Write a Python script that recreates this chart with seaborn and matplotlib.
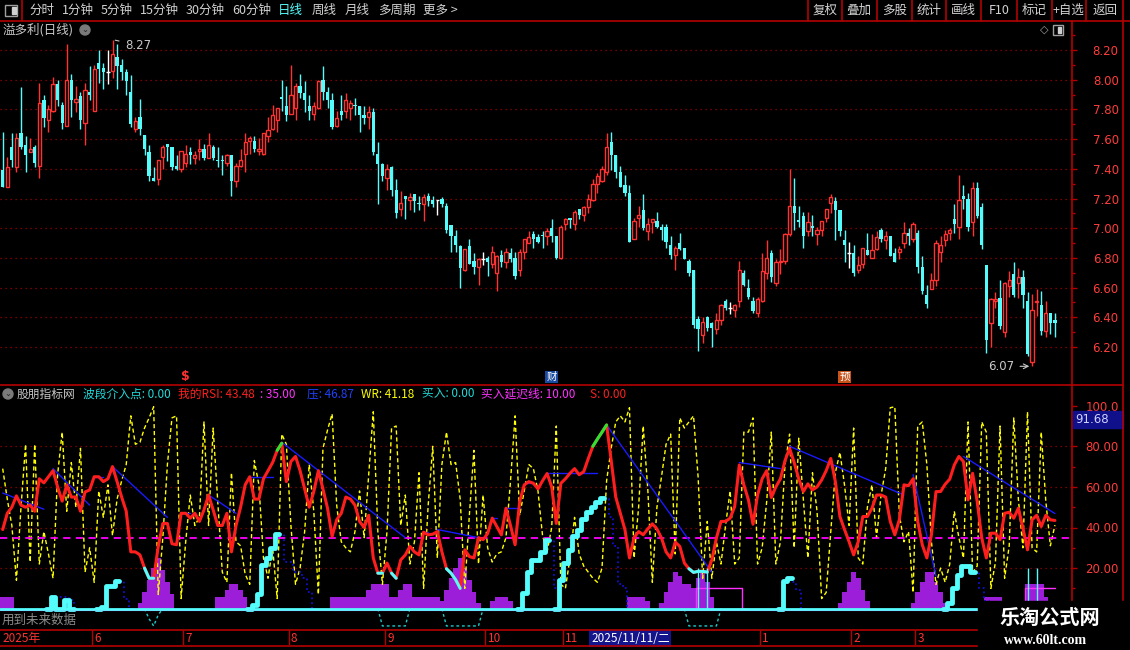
import numpy as np
import pandas as pd
import matplotlib
matplotlib.use("Agg")
import matplotlib.pyplot as plt
import matplotlib.transforms as mtransforms
from matplotlib.patches import Rectangle, Circle
import seaborn as sns

# ================= DATA =================
opens = [
    7.39, 7.28, 7.55, 7.41, 7.64, 7.56, 7.51, 7.55, 7.42, 7.86,
    7.73, 7.79, 7.97, 7.83, 7.69, 8.00, 7.85, 7.89, 7.71, 7.92,
    7.79, 8.11, 8.08, 8.05, 8.06, 8.15, 8.10, 8.05, 7.92, 7.67,
    7.75, 7.63, 7.51, 7.34, 7.33, 7.48, 7.57, 7.55, 7.42, 7.40,
    7.44, 7.51, 7.47, 7.52, 7.53, 7.47, 7.55, 7.46, 7.46, 7.44,
    7.49, 7.32, 7.42, 7.50, 7.59, 7.59, 7.52, 7.50, 7.62, 7.67,
    7.73, 7.88, 7.82, 7.77, 7.81, 7.96, 7.91, 7.82, 7.77, 7.81,
    8.00, 7.92, 7.86, 7.69, 7.79, 7.79, 7.81, 7.83, 7.82, 7.76,
    7.75, 7.78, 7.50, 7.43, 7.34, 7.41, 7.26, 7.13, 7.22, 7.19,
    7.23, 7.165, 7.16, 7.22, 7.19, 7.19, 7.20, 7.15, 7.02, 6.95,
    6.88, 6.72, 6.88, 6.78, 6.74, 6.79, 6.80, 6.76, 6.70, 6.82,
    6.77, 6.83, 6.80, 6.72, 6.84, 6.90, 6.96, 6.94, 6.95, 6.95,
    7.00, 6.95, 6.80, 7.03, 7.06, 7.03, 7.13, 7.09, 7.14, 7.19,
    7.30, 7.32, 7.38, 7.58, 7.49, 7.38, 7.29, 7.24, 6.93, 7.07,
    7.12, 6.98, 7.04, 7.05, 7.01, 7.01, 6.89, 6.82, 6.90, 6.87,
    6.78, 6.72, 6.39, 6.28, 6.40, 6.36, 6.32, 6.38, 6.51, 6.46,
    6.45, 6.51, 6.70, 6.60, 6.51, 6.43, 6.51, 6.70, 6.83, 6.63,
    6.77, 6.78, 6.96, 7.15, 7.05, 7.08, 6.98, 7.01, 6.96, 6.99,
    7.07, 7.17, 7.18, 7.12, 6.92, 6.83, 6.83, 6.72, 6.76, 6.85,
    6.80, 6.86, 6.99, 6.92, 6.95, 6.83, 6.84, 6.90, 6.97, 6.93,
    6.97, 6.74, 6.55, 6.59, 6.65, 6.84, 6.92, 6.97, 7.06, 7.01,
    7.22, 7.20, 7.04, 7.27, 7.14, 6.75, 6.36, 6.51, 6.53, 6.30,
    6.61, 6.69, 6.63, 6.67, 6.51, 6.10, 6.50, 6.48, 6.31, 6.43,
    6.38]
highs = [
    7.65, 7.48, 7.64, 7.64, 7.95, 7.62, 7.61, 7.56, 7.98, 7.90,
    7.83, 8.02, 8.00, 7.85, 8.24, 8.04, 7.96, 7.92, 7.98, 8.09,
    8.10, 8.20, 8.11, 8.20, 8.27, 8.24, 8.14, 8.07, 8.03, 7.75,
    7.87, 7.63, 7.56, 7.41, 7.46, 7.56, 7.57, 7.55, 7.49, 7.52,
    7.56, 7.55, 7.52, 7.60, 7.57, 7.64, 7.56, 7.55, 7.49, 7.50,
    7.49, 7.44, 7.53, 7.64, 7.62, 7.62, 7.61, 7.64, 7.75, 7.83,
    7.81, 8.00, 7.96, 8.10, 7.98, 8.04, 7.99, 7.90, 7.85, 8.00,
    8.09, 7.95, 7.91, 7.79, 7.90, 7.91, 7.86, 7.88, 7.82, 7.82,
    7.82, 7.81, 7.58, 7.44, 7.43, 7.42, 7.33, 7.25, 7.22, 7.24,
    7.23, 7.22, 7.23, 7.24, 7.22, 7.19, 7.21, 7.17, 7.02, 6.99,
    6.89, 6.86, 6.93, 6.83, 6.80, 6.84, 6.81, 6.88, 6.82, 6.85,
    6.87, 6.87, 6.84, 6.86, 6.93, 6.98, 6.98, 6.96, 6.98, 7.00,
    7.06, 6.95, 7.02, 7.07, 7.07, 7.12, 7.13, 7.15, 7.23, 7.33,
    7.37, 7.42, 7.64, 7.65, 7.49, 7.42, 7.36, 7.29, 7.07, 7.15,
    7.23, 7.07, 7.06, 7.11, 7.03, 7.03, 6.95, 6.88, 6.97, 6.87,
    6.79, 6.72, 6.41, 6.40, 6.41, 6.37, 6.43, 6.49, 6.52, 6.50,
    6.49, 6.78, 6.72, 6.66, 6.54, 6.54, 6.83, 6.92, 6.85, 6.79,
    6.86, 6.97, 7.40, 7.34, 7.15, 7.11, 7.11, 7.09, 7.01, 7.05,
    7.13, 7.23, 7.21, 7.12, 6.99, 6.91, 6.89, 6.81, 6.87, 6.97,
    6.96, 6.98, 7.00, 6.98, 6.95, 6.87, 6.88, 7.04, 7.00, 7.04,
    6.99, 6.81, 6.62, 6.70, 6.92, 6.95, 6.99, 7.00, 7.16, 7.36,
    7.29, 7.24, 7.31, 7.31, 7.17, 6.75, 6.53, 6.57, 6.65, 6.64,
    6.71, 6.77, 6.73, 6.72, 6.57, 6.56, 6.59, 6.58, 6.51, 6.43,
    6.43]
lows = [
    7.28, 7.28, 7.41, 7.38, 7.53, 7.38, 7.51, 7.41, 7.34, 7.68,
    7.65, 7.78, 7.82, 7.67, 7.69, 7.75, 7.78, 7.67, 7.56, 7.86,
    7.79, 7.98, 7.94, 7.97, 8.01, 7.94, 8.00, 7.90, 7.68, 7.65,
    7.63, 7.49, 7.32, 7.32, 7.29, 7.40, 7.45, 7.39, 7.39, 7.38,
    7.41, 7.43, 7.43, 7.46, 7.46, 7.47, 7.46, 7.41, 7.36, 7.42,
    7.22, 7.28, 7.41, 7.38, 7.50, 7.51, 7.49, 7.49, 7.58, 7.66,
    7.65, 7.79, 7.72, 7.77, 7.73, 7.88, 7.78, 7.73, 7.73, 7.80,
    7.86, 7.81, 7.67, 7.68, 7.73, 7.74, 7.73, 7.76, 7.65, 7.70,
    7.67, 7.49, 7.16, 7.32, 7.26, 7.22, 7.07, 7.08, 7.06, 7.12,
    7.11, 7.12, 7.05, 7.15, 7.14, 7.09, 7.14, 6.97, 6.84, 6.84,
    6.60, 6.71, 6.76, 6.69, 6.62, 6.75, 6.68, 6.73, 6.58, 6.74,
    6.73, 6.77, 6.66, 6.68, 6.79, 6.90, 6.87, 6.90, 6.87, 6.89,
    6.91, 6.79, 6.79, 6.99, 7.00, 6.99, 7.06, 7.05, 7.10, 7.18,
    7.24, 7.31, 7.36, 7.39, 7.34, 7.28, 7.22, 6.91, 6.93, 7.01,
    6.99, 6.92, 6.97, 7.00, 6.92, 6.87, 6.79, 6.72, 6.85, 6.79,
    6.68, 6.33, 6.17, 6.23, 6.31, 6.20, 6.29, 6.35, 6.45, 6.42,
    6.40, 6.47, 6.61, 6.52, 6.43, 6.40, 6.50, 6.66, 6.64, 6.61,
    6.69, 6.76, 6.95, 6.99, 7.01, 6.87, 6.95, 6.95, 6.89, 6.95,
    7.04, 7.10, 6.92, 6.95, 6.77, 6.73, 6.68, 6.70, 6.73, 6.82,
    6.80, 6.85, 6.91, 6.86, 6.81, 6.77, 6.79, 6.87, 6.89, 6.91,
    6.70, 6.56, 6.46, 6.59, 6.61, 6.77, 6.88, 6.92, 6.97, 6.93,
    7.13, 6.98, 6.95, 7.07, 6.86, 6.16, 6.20, 6.46, 6.32, 6.27,
    6.54, 6.54, 6.53, 6.46, 6.14, 6.07, 6.41, 6.28, 6.27, 6.29,
    6.27]
closes = [
    7.28, 7.41, 7.46, 7.61, 7.55, 7.49, 7.53, 7.44, 7.84, 7.74,
    7.80, 7.97, 7.86, 7.71, 8.00, 7.86, 7.87, 7.73, 7.93, 7.90,
    8.07, 8.07, 8.05, 8.05, 8.17, 8.09, 8.05, 7.99, 7.70, 7.72,
    7.67, 7.53, 7.35, 7.32, 7.46, 7.55, 7.55, 7.41, 7.40, 7.52,
    7.50, 7.49, 7.49, 7.53, 7.47, 7.56, 7.47, 7.45, 7.45, 7.49,
    7.32, 7.42, 7.46, 7.58, 7.61, 7.53, 7.53, 7.64, 7.66, 7.76,
    7.81, 7.87, 7.76, 7.90, 7.96, 7.91, 7.86, 7.79, 7.82, 7.99,
    7.92, 7.86, 7.68, 7.74, 7.76, 7.86, 7.84, 7.82, 7.76, 7.74,
    7.78, 7.51, 7.43, 7.35, 7.40, 7.26, 7.10, 7.17, 7.20, 7.21,
    7.18, 7.16, 7.21, 7.18, 7.16, 7.19, 7.16, 6.99, 6.95, 6.89,
    6.73, 6.86, 6.76, 6.74, 6.79, 6.79, 6.77, 6.84, 6.81, 6.77,
    6.84, 6.79, 6.68, 6.84, 6.93, 6.94, 6.93, 6.91, 6.945, 6.98,
    6.95, 6.80, 7.01, 7.06, 7.055, 7.11, 7.09, 7.14, 7.20, 7.30,
    7.35, 7.40, 7.55, 7.49, 7.38, 7.28, 7.24, 6.91, 7.05, 7.09,
    7.00, 7.03, 7.06, 7.01, 6.99, 6.91, 6.82, 6.87, 6.86, 6.79,
    6.70, 6.35, 6.32, 6.37, 6.33, 6.33, 6.38, 6.48, 6.46, 6.46,
    6.48, 6.72, 6.62, 6.54, 6.44, 6.52, 6.71, 6.80, 6.67, 6.77,
    6.78, 6.96, 7.15, 7.10, 7.04, 6.95, 7.04, 7.00, 6.99, 7.05,
    7.13, 7.21, 7.12, 6.98, 6.89, 6.83, 6.70, 6.75, 6.87, 6.82,
    6.85, 6.94, 6.93, 6.95, 6.81, 6.77, 6.86, 6.97, 6.95, 7.03,
    6.74, 6.58, 6.49, 6.65, 6.90, 6.89, 6.96, 6.99, 7.03, 7.19,
    7.20, 7.01, 7.27, 7.08, 6.89, 6.25, 6.52, 6.52, 6.34, 6.63,
    6.65, 6.55, 6.67, 6.55, 6.15, 6.45, 6.51, 6.31, 6.43, 6.36,
    6.36]

# indicator panel
rsi = [
    39, 47, 50, 55.6, 51, 50, 51, 48, 64, 62,
    65, 68, 60, 53, 61, 55, 55, 48, 57.5, 58.5,
    65, 65, 62.6, 64, 70, 62.6, 55, 48, 28, 28,
    26.5, 20, 15, 15, 30.7, 42, 42, 32, 31.5, 47,
    47, 44.6, 47, 43, 48.7, 56, 48.7, 41, 41, 47,
    28, 41, 50, 61, 65, 54, 54, 64, 68, 72,
    78, 81.5, 62.6, 72.5, 75, 68, 59, 50, 57.7, 68,
    59, 49.5, 35.6, 43.8, 47, 55, 54, 51, 43, 40,
    46, 25, 17.5, 17.5, 22.5, 17.5, 15, 24, 26.5, 30.7,
    28, 26.5, 37.7, 36.4, 36.7, 38, 28, 19.7, 17.5, 14.3,
    10, 29, 25.7, 25, 35, 34, 37, 44.6, 40.5, 36.4,
    49.5, 41, 31.5, 52.8, 61, 62.6, 61.8, 59, 63, 66.6,
    60, 42, 61.8, 64, 66.7, 69, 66, 67.5, 74, 80,
    83.6, 87, 90.5, 73, 55, 47, 39, 25, 35, 38,
    36.4, 39.3, 41.8, 39.3, 34.8, 28, 25, 32.8, 30.7, 22.5,
    19.7, 17.9, 18.4, 18.4, 18, 24, 34.8, 43, 43, 44.6,
    50.3, 70.8, 61, 53.6, 41.6, 56, 64, 68, 54.8, 60,
    64, 73, 79, 72, 64, 57.7, 61.5, 58.5, 60, 63.4,
    68, 74, 62.6, 45.4, 39, 33, 26.5, 33, 45.4, 45.4,
    49.5, 56, 56, 55, 43, 36.4, 44, 61, 60.6, 64,
    43, 31.5, 25, 36.4, 57.7, 57.7, 61.3, 63.8, 70.8, 75,
    72.5, 53.6, 66.7, 52.8, 34.8, 25, 37.2, 37.2, 34, 47,
    47.5, 44.6, 49.5, 39.7, 29, 43.8, 46, 40.5, 46, 43.8, 43.48]
wr = [
    69, 54, 41, 14, 50, 81, 23, 81, 22, 38,
    27, 15, 66, 87, 48, 72, 50, 79, 18, 30,
    13, 58, 45, 61, 36, 54, 63, 71, 95, 81,
    82, 89, 94, 99.5, 7, 35, 71, 94, 95, 5,
    33, 56, 41, 45, 92, 41, 89, 53, 18, 13,
    67, 33, 31, 17, 12, 73, 61, 25, 15, 30,
    5, 86, 81, 41, 12, 20, 38, 71, 48, 7,
    79, 88, 96, 51, 33, 30, 28, 38, 58, 35,
    66, 97, 38, 12, 38, 89, 90, 41, 56, 22,
    33, 67, 10, 51, 80, 25, 71, 87, 71, 72,
    54, 10, 46, 78, 22, 56, 30, 23, 27, 28,
    35, 63, 95, 46, 58, 71, 69, 58, 36, 28,
    40, 90, 12, 10, 25, 45, 27, 21, 18, 15,
    13, 20, 63, 79, 92, 95, 92, 99, 25, 50,
    90, 59, 13, 50, 65, 81, 86, 27, 94, 89,
    92, 95, 65, 15, 43, 15, 33, 22, 41, 58,
    22, 25, 87, 87, 94, 22, 30, 53, 87, 22,
    33, 71, 86, 30, 84, 54, 25, 67, 48, 5,
    8, 38, 67, 77, 61, 41, 89, 25, 22, 50,
    61, 35, 56, 69, 99, 99.5, 46, 33, 38, 8,
    90, 92, 71, 33, 12, 20, 13, 22, 48, 35,
    25, 92, 18, 21, 92, 87, 10, 23, 90, 15,
    31, 94, 54, 30, 97, 30, 28, 87, 53, 31, 41.18]

# pressure line (压) segments
press_x0 = [0, 11, 20, 24, 39, 45, 54, 61, 92, 95, 107, 110, 114, 119, 132, 161, 172, 199, 210]
press_y0 = [57, 69, 65, 70, 47, 56, 65, 82, 38, 39, 44.6, 49.5, 62, 67, 90.5, 72, 80, 66, 75]
press_x1 = [9, 19, 22, 36, 41, 51, 59, 88, 93, 104, 108, 113, 116, 130, 155, 170, 197, 204, 230]
press_y1 = [49, 51, 65, 45, 47, 47, 65, 35, 38, 35, 44.6, 49.5, 62, 67, 18, 69, 56, 16, 46.87]

# purple band columns
purple_idx = [0, 1, 2, 30, 31, 32, 33, 34, 35, 36, 37, 47, 48, 49, 50, 51, 52, 53,
              72, 73, 74, 75, 76, 77, 78, 79, 80, 81, 82, 83, 84, 85, 86, 87, 88, 89, 90, 91, 92, 93, 94, 95,
              96, 97, 98, 99, 100, 101, 102, 103, 104, 107, 108, 109, 110, 111,
              137, 138, 139, 140, 141, 144, 145, 146, 147, 148, 149, 150, 151, 152, 153, 154, 155,
              183, 184, 185, 186, 187, 188, 189, 199, 200, 201, 202, 203, 204, 205, 206,
              215, 216, 217, 218, 224, 225, 226, 227, 228]
purple_val = [6, 6, 6, 3, 8, 14, 20, 25, 19, 13, 7, 6, 6, 9, 12, 12, 9, 6,
              6, 6, 6, 6, 6, 6, 6, 6, 9, 12, 12, 12, 12, 6, 6, 9, 12, 12, 6, 6, 6, 6, 6, 6,
              4, 9, 15, 20, 25, 20, 14, 8, 3, 4, 6, 6, 6, 4,
              6, 6, 6, 6, 4, 3, 8, 13, 18, 16, 12, 12, 10, 15, 18, 13, 6,
              3, 8, 13, 18, 15, 9, 4, 3, 8, 13, 18, 18, 13, 8, 3,
              6, 6, 6, 6, 12, 12, 12, 12, 6]

# buy ladder (cyan) and its decay (dotted blue)
buy_idx = [10, 11, 12, 13, 14, 15, 21, 22, 23, 24, 25, 54, 55, 56, 57, 58, 59, 60,
           113, 114, 115, 116, 117, 118, 119, 121, 122, 123, 124, 125, 126, 127, 128, 129, 130, 131,
           170, 171, 172, 206, 207, 208, 209, 210, 211, 212]
buy_val = [0, 5.6, 0, 0, 4.4, 0, 0, 1, 11, 11, 13.4, 0, 2, 7, 21.6, 25, 30, 37,
           0, 7.7, 18, 24, 24, 28, 34, 0, 14, 22.5, 29, 36, 39, 44, 47.5, 50, 52.5, 54.4,
           0, 13.4, 15, 0, 2.8, 10, 16.7, 20.8, 20.8, 18]
decay_idx = [12, 13, 14, 15, 16, 25, 26, 27, 28, 60, 61, 62, 63, 64, 65, 66, 67, 68,
             119, 120, 121, 131, 132, 133, 134, 135, 136, 137, 172, 173, 174, 175, 212, 213, 214, 215, 216]
decay_val = [5.6, 5.6, 5.6, 4.4, 0, 13.4, 13.4, 5, 0, 37, 37, 23, 23, 18, 18, 15, 8, 0,
             34, 34, 10, 54.4, 54, 45, 31, 12, 10, 0, 15, 13, 9, 0, 18, 18, 10, 4, 0]

# buy delay line (magenta)
delay_idx = [151, 152, 153, 154, 155, 156, 157, 158, 159, 160, 161, 162,
             223, 224, 225, 226, 227, 228, 229, 230]
delay_val = [0, 10, 10, 10, 10, 10, 10, 10, 10, 10, 10, 0,
             0, 10, 10, 10, 10, 10, 10, 10]

# negative dashed troughs (cyan)
neg_idx = [31, 32, 33, 34, 35, 82, 83, 84, 85, 86, 87, 88, 89,
           96, 97, 98, 99, 100, 101, 102, 103, 104, 105,
           149, 150, 151, 152, 153, 154, 155, 156, 157]
neg_val = [0, -5, -8.5, -3, 0, 0, -8.5, -8.5, -8.5, -8.5, -8.5, -8.5, 0,
           0, -8.5, -8.5, -8.5, -8.5, -8.5, -8.5, -8.5, -8.5, 0,
           0, -8.5, -8.5, -8.5, -8.5, -8.5, -8.5, -8.5, 0]

# entry signal spikes
sig_idx = [152, 154, 224, 226]
sig_val = [20, 20, 20, 20]

rsi_level = 35
month_idx = [0, 20, 40, 63, 84, 106, 123, 166, 186, 200]
month_lbl = ['2025年', '6', '7', '8', '9', '10', '11', '1', '2', '3']
cursor_idx = 128.6
cursor_lbl = '2025/11/11/二'
event_idx = [40, 120, 184]
event_lbl = ['$', '财', '预']

# ================= STYLE =================
W, H = 1130, 650
RED = '#ff3232'
CYAN = '#54fcfc'
AXRED = '#b40000'
GRID = '#a00000'
LBL = '#ff3c3c'
MENU = '#d2d2d2'

sns.set_theme(style='dark', rc={'axes.facecolor': 'black', 'figure.facecolor': 'black',
                                'savefig.facecolor': 'black', 'axes.grid': False})
plt.rcParams['font.family'] = ['Noto Sans CJK SC', 'DejaVu Sans']

fig = plt.figure(figsize=(W / 100, H / 100), dpi=100)


def add_ax(x0, y0, x1, y1, **kw):
    return fig.add_axes([x0 / W, 1 - y1 / H, (x1 - x0) / W, (y1 - y0) / H], **kw)


def bar_x(px):
    return (px - 2.7) / 4.575


XL = (bar_x(0), bar_x(1072))


def style_axis(a, ticks, labels, minor):
    a.set_facecolor('black')
    for s in ['left', 'top', 'bottom']:
        a.spines[s].set_visible(False)
    a.spines['right'].set_color(AXRED)
    a.spines['right'].set_linewidth(1.2)
    a.yaxis.tick_right()
    a.set_yticks(ticks)
    a.set_yticklabels(labels)
    a.set_yticks(minor, minor=True)
    a.tick_params(axis='y', which='major', length=3.6, width=1, color=AXRED,
                  labelcolor=LBL, labelsize=8.5, pad=30)
    a.tick_params(axis='y', which='minor', length=2.2, width=1, color=AXRED)
    for t in a.get_yticklabels():
        t.set_horizontalalignment('right')
        t.set_fontfamily('DejaVu Sans')
    a.set_xticks([])
    a.set_xlim(*XL)
    a.set_xlabel('')
    a.set_ylabel('')


# ================= PRICE PANEL =================
ax = add_ax(0, 21, 1072, 385)
o, h, l, c = map(np.array, (opens, highs, lows, closes))
bars = np.arange(len(c))
up, dn, fl = c > o, c < o, c == o
wick_col = np.where(up, RED, np.where(dn, CYAN, 'white'))
ax.vlines(bars, l, h, colors=wick_col, lw=1, zorder=2)
ax.bar(bars[up], (c - o)[up], bottom=o[up], width=0.72, facecolor='black',
       edgecolor=RED, linewidth=1, zorder=3)
ax.bar(bars[dn], np.maximum((o - c)[dn], 0.012), bottom=c[dn], width=0.72,
       color=CYAN, linewidth=0, zorder=3)
ax.hlines(c[fl], bars[fl] - 0.36, bars[fl] + 0.36, colors='white', lw=1, zorder=3)

price_ticks = np.round(np.arange(6.2, 8.21, 0.2), 2)
for p in price_ticks:
    ax.axhline(p, color=GRID, lw=0.9, linestyle=(0, (1, 3)), zorder=0)
style_axis(ax, price_ticks, [f'{p:.2f}' for p in price_ticks],
           np.round(np.arange(6.3, 8.31, 0.2), 2))
ax.set_ylim(8.20 - (385 - 50) / 148.5, 8.20 - (21 - 50) / 148.5)

ihi, ilo = int(np.argmax(h)), int(np.argmin(l))
ax.annotate(f'{h[ihi]:.2f}', xy=(ihi, h[ihi]), xytext=(9, -4), textcoords='offset points',
            color='#c8c8c8', fontsize=8.5, family='DejaVu Sans', va='center', ha='left',
            arrowprops=dict(arrowstyle='-', color='#c8c8c8', lw=0.8))
ax.annotate(f'{l[ilo]:.2f}', xy=(ilo, l[ilo]), xytext=(-13, 0), textcoords='offset points',
            color='#c8c8c8', fontsize=8.5, family='DejaVu Sans', va='center', ha='right',
            arrowprops=dict(arrowstyle='->', color='#c8c8c8', lw=0.8))

ev_tr = mtransforms.blended_transform_factory(ax.transData, ax.transAxes)
for i, s in zip(event_idx, event_lbl):
    if s == '$':
        ax.text(i, 0.022, s, transform=ev_tr, color=RED, fontsize=9, fontweight='bold',
                ha='center', va='center', family='DejaVu Sans', zorder=6)
    else:
        bg = '#1a4aa0' if s == '财' else '#c8541c'
        ax.text(i, 0.022, s, transform=ev_tr, color='white', fontsize=7.5, ha='center',
                va='center', zorder=6, bbox=dict(boxstyle='square,pad=0.1', fc=bg, ec='none'))

# ================= INDICATOR PANEL =================
ax2 = add_ax(0, 385, 1072, 630)
n = len(rsi)
df = pd.DataFrame({'bar': np.arange(n), 'rsi': rsi, 'wr': wr})

for g in [20, 40, 60, 80]:
    ax2.axhline(g, color=GRID, lw=0.9, linestyle=(0, (1, 3)), zorder=0)

purple = np.zeros(n)
purple[purple_idx] = purple_val
ax2.bar(np.arange(n), purple, width=1.0, color='#9c1ed8', linewidth=0, zorder=1)

sns.lineplot(data=df, x='bar', y='wr', ax=ax2, color='#ffff00', linewidth=1.0,
             estimator=None, errorbar=None, zorder=2)
ax2.lines[-1].set_dashes([3, 2])

ax2.axhline(rsi_level, color='#ff00ff', lw=1.3, dashes=(4, 3), zorder=2.5)

for x0, y0, x1, y1 in zip(press_x0, press_y0, press_x1, press_y1):
    ax2.plot([x0, x1], [y0, y1], color='#1a1aff', lw=1.0, zorder=3)

sns.lineplot(data=df, x='bar', y='rsi', ax=ax2, color='#ff1e1e', linewidth=2.2,
             estimator=None, errorbar=None, zorder=4)
r = np.array(rsi)
ax2.plot(np.arange(n), np.where(r <= 21, r, np.nan), color=CYAN, lw=2.2, zorder=4.5)
ax2.plot(np.arange(n), np.where(r >= 78, r, np.nan), color='#30e030', lw=2.2, zorder=4.5)


def series(idx, val):
    s = np.full(n, np.nan)
    s[idx] = val
    return s


ax2.step(np.arange(n), series(decay_idx, decay_val), where='mid', color='#1010d0',
         lw=1.3, linestyle=':', zorder=4)
ax2.step(np.arange(n), series(buy_idx, buy_val), where='mid', color=CYAN, lw=3.5, zorder=5)
ax2.step(np.arange(n), series(delay_idx, delay_val), where='mid', color='#ff30ff', lw=1.0, zorder=4)
ax2.plot(np.arange(n), series(neg_idx, neg_val), color='#20c8c8', lw=1.0, dashes=(2, 2), zorder=4)
ax2.vlines(sig_idx, 0, sig_val, colors=CYAN, lw=1.0, zorder=5)

ax2.axhline(-0.7, color='#ff30ff', lw=0.8, zorder=5)
ax2.axhline(0, color=CYAN, lw=2.0, zorder=5)

style_axis(ax2, [20, 40, 60, 80, 100], ['20.00', '40.00', '60.00', '80.00', '100.0'],
           [10, 30, 50, 70, 90])
ax2.set_ylim((608.7 - 630) * 20 / 40.6, (608.7 - 385) * 20 / 40.6)

# ================= DATE ROW =================
dax = add_ax(0, 630, 1072, 645)
dax.set_facecolor('black')
dax.set_xlim(*XL)
dax.set_ylim(0, 1)
dax.axis('off')
dax.vlines(np.array(month_idx[1:]) - 0.5, 0, 1, colors=AXRED, lw=1)
for i, s in zip(month_idx, month_lbl):
    dax.text(i, 0.45, s, color=RED, fontsize=8.5, ha='left', va='center')
dax.text(cursor_idx, 0.45, cursor_lbl, color='white', fontsize=8.5, ha='left', va='center',
         bbox=dict(boxstyle='square,pad=0.15', fc='#14148c', ec='none'))

# ================= FRAME / OVERLAY =================
fg = fig.add_axes([0, 0, 1, 1], zorder=10)
fg.set_xlim(0, W)
fg.set_ylim(H, 0)
fg.axis('off')
fg.patch.set_alpha(0)

# top menu bar
fg.plot([0, W], [21, 21], color=AXRED, lw=1.2)
fg.plot([22, 22], [0, 21], color=AXRED, lw=1.2)
fg.add_patch(Rectangle((5, 4.5), 12, 11, fill=False, ec='#a0a0a0', lw=1))
fg.add_patch(Rectangle((12, 6.5), 3.5, 7, color='#d0d0d0'))
menu_lbl = ['分时', '1分钟', '5分钟', '15分钟', '30分钟', '60分钟', '日线', '周线', '月线', '多周期', '更多 >']
menu_x = [29, 62, 101, 140, 186, 232, 278, 312, 345, 378, 423]
for s, x in zip(menu_lbl, menu_x):
    fg.text(x, 10.5, s, color=CYAN if s == '日线' else MENU, fontsize=9, va='center', ha='left')
btn_lbl = ['复权', '叠加', '多股', '统计', '画线', 'F10', '标记', '+自选', '返回']
btn_sep = [807.5, 841.7, 876.7, 911.7, 946.3, 981.2, 1016.5, 1051.5, 1086.4, 1122.8]
for xs in btn_sep:
    fg.plot([xs, xs], [0, 21], color=AXRED, lw=1.2)
for s, a, b in zip(btn_lbl, btn_sep[:-1], btn_sep[1:]):
    fg.text((a + b) / 2, 10.5, s, color=MENU, fontsize=9, va='center', ha='center')

# title row
fg.text(3, 30, '溢多利(日线)', color='#c8c8c8', fontsize=9, va='center')
fg.add_patch(Circle((85, 30), 5, color='#7a7a7a'))
fg.text(85, 29.5, '⌄', color='#202020', fontsize=6, ha='center', va='center', family='DejaVu Sans')
fg.text(1044, 29.5, '◇', color='#a0a0a0', fontsize=8, ha='center', va='center', family='DejaVu Sans')
fg.add_patch(Rectangle((1053, 24.5), 10, 10, fill=False, ec='#a0a0a0', lw=1))
fg.add_patch(Rectangle((1058, 26.5), 3, 6, color='#d0d0d0'))

# separators and right edge
fg.plot([0, 1123], [385, 385], color=AXRED, lw=1.2)
fg.plot([1123, 1123], [21, 650], color=AXRED, lw=1.2)
fg.plot([0, 1072], [630, 630], color=AXRED, lw=1.2)
fg.plot([0, 1072], [645.5, 645.5], color=AXRED, lw=1.2)

# indicator header
fg.add_patch(Circle((8, 394), 5, color='#7a7a7a'))
fg.text(8, 393.5, '⌄', color='#202020', fontsize=6, ha='center', va='center', family='DejaVu Sans')
head = [('股朋指标网', '#c8c8c8', 17),
        ('波段介入点: 0.00', '#20d8d8', 83),
        (f'我的RSI: {rsi[-1]:.2f}', '#ff2020', 178),
        (f': {rsi_level:.2f}', '#ff30ff', 260),
        (f'压: {press_y1[-1]:.2f}', '#2040ff', 307),
        (f'WR: {wr[-1]:.2f}', '#ffff00', 361),
        ('买入: 0.00', '#20d8d8', 422),
        (f'买入延迟线: {delay_val[-1]:.2f}', '#ff30ff', 481),
        ('S: 0.00', '#ff2020', 590)]
for s, col, x in head:
    fg.text(x, 394, s, color=col, fontsize=8.5, va='center', ha='left')

# cursor value box on right axis
fg.add_patch(Rectangle((1073, 411), 50, 17, color='#10108a'))
fg.text(1075, 419.5, '91.68', color='#d0d0ff', fontsize=8.5, va='center', family='DejaVu Sans')

fg.text(2, 620, '用到未来数据', color='#8c8c8c', fontsize=9, va='center')

# watermark block
fg.add_patch(Rectangle((978, 601), 152, 49, color='black', zorder=20))
fg.text(1050, 617, '乐淘公式网', color='white', fontsize=14.5, fontweight='bold',
        ha='center', va='center', zorder=21)
fg.text(1046, 640, 'www.60lt.com', color='white', fontsize=10, fontweight='bold',
        family='Liberation Serif', ha='center', va='center', zorder=21)

fig.savefig('out.png', dpi=100, facecolor='black')
